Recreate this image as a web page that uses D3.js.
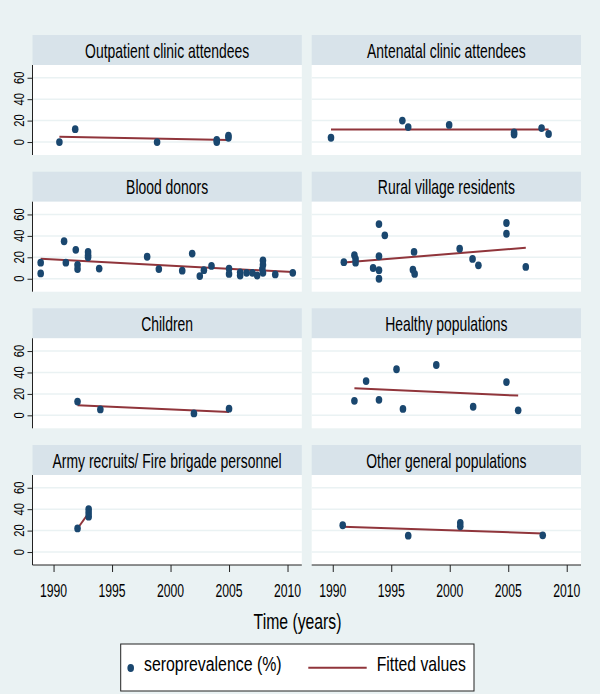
<!DOCTYPE html>
<html>
<head>
<meta charset="utf-8">
<script src="https://cdn.jsdelivr.net/npm/d3@7"></script>
<style>
  body { margin: 0; background: #eaf2f3; }
  svg { display: block; }
  text { font-family: "Liberation Sans", Arial, sans-serif; fill: #000; }
</style>
</head>
<body>
<div id="chart"></div>
<script>
// panel titles, in reading order (left-right, top-bottom)
const panelTitles = [
    "Outpatient clinic attendees", "Antenatal clinic attendees",
    "Blood donors", "Rural village residents",
    "Children", "Healthy populations",
    "Army recruits/ Fire brigade personnel", "Other general populations"
];

// [year, seroprevalence %] per panel
const outpatient = [[1990.5, 0], [1991.85, 12], [1998.85, 0], [2003.95, 0], [2003.95, 2], [2004.95, 4], [2004.95, 6]];
const antenatal = [[1989.85, 4], [1995.95, 20], [1996.45, 14], [1999.95, 16], [2005.5, 7], [2005.5, 9], [2007.85, 13], [2008.45, 7.5]];
const bloodDonors = [
    [1988.9, 5], [1988.9, 15], [1990.9, 35], [1991.05, 15], [1991.9, 27], [1992.05, 13], [1992.05, 9],
    [1992.95, 25], [1992.95, 22], [1992.95, 20], [1993.9, 9.5], [1998.0, 20.5], [1999.0, 9], [2001.0, 7.5],
    [2001.85, 23.5], [2002.5, 2.5], [2002.85, 8], [2003.5, 12], [2005.0, 9.5], [2005.0, 4.5],
    [2005.95, 6], [2005.95, 3], [2006.5, 5.5], [2007.0, 5.5], [2007.4, 3], [2007.85, 9],
    [2007.9, 17], [2007.9, 13], [2007.9, 5.5], [2008.95, 4], [2010.45, 5.5]
];
const rural = [
    [1990.95, 15.5], [1991.85, 22], [1991.95, 18.5], [1991.95, 15], [1993.45, 10], [1993.95, 51],
    [1993.95, 21], [1993.95, 8], [1993.95, 0], [1994.45, 40.5], [1996.95, 25], [1996.85, 8.5],
    [1997.0, 4.5], [2000.85, 28], [2001.95, 18.5], [2002.45, 12.5], [2004.85, 52], [2004.85, 42],
    [2006.5, 11]
];
const children = [[1992.05, 12.8], [1994.0, 5.5], [2002.0, 1.8], [2005.0, 6.2]];
const healthy = [[1991.85, 13.5], [1992.85, 32], [1993.95, 14.5], [1995.45, 43], [1996.0, 6], [1998.85, 47], [2002.0, 8], [2004.85, 31], [2005.85, 4.7]];
const army = [[1992.05, 22], [1993.0, 40], [1993.0, 36.5], [1993.0, 33]];
const otherGeneral = [[1990.85, 25], [1996.45, 15.3], [2000.9, 27.3], [2000.9, 24], [2007.95, 15.6]];

const panelData = [outpatient, antenatal, bloodDonors, rural, children, healthy, army, otherGeneral];

// fitted line end points per panel: [year0, value0, year1, value1]
const fitted = [
    [1990.5, 5.0, 2004.95, 1.9],
    [1989.85, 11.8, 2008.45, 11.6],
    [1988.9, 18.6, 2010.45, 6.2],
    [1990.95, 15.2, 2006.5, 28.9],
    [1992.05, 9.3, 2005.0, 3.1],
    [1991.85, 25.2, 2005.85, 18.4],
    [1992.05, 22.0, 1993.0, 36.4],
    [1990.85, 23.7, 2007.95, 17.4]
];

const xTicks = [1990, 1995, 2000, 2005, 2010];
const yTicks = [0, 20, 40, 60];

const legendLabels = ["seroprevalence (%)", "Fitted values"];

var width = 600, height = 694;
var navy = "#1a476f", maroon = "#90353b";

var colX = [32.5, 311.7],
    panelW = 269.3,
    rowTop = [35, 171.7, 308.3, 445],
    stripH = 30,
    plotH = 90;

var svg = d3.select("#chart").append("svg")
    .attr("width", width)
    .attr("height", height);

svg.append("rect")
    .attr("width", width).attr("height", height)
    .attr("fill", "#eaf2f3");

// text squeezed horizontally, like the stata export
function squeezed(parent, x, y, str, size, sx, anchor, rot) {
    var g = parent.append("g")
        .attr("transform", "translate(" + x + "," + y + ")" + (rot ? " rotate(" + rot + ")" : "") + " scale(" + sx + ",1)");
    return g.append("text")
        .attr("text-anchor", anchor || "middle")
        .style("font-size", size + "px")
        .text(str);
}

panelTitles.forEach(function(title, k) {
    var col = k % 2, row = Math.floor(k / 2);
    var x0 = colX[col], top = rowTop[row];
    var plotTop = top + stripH;

    var x = d3.scaleLinear().domain([1988.2, 2011.22]).range([x0, x0 + panelW]);
    var y = d3.scaleLinear().domain([-12.1, 71.9]).range([plotTop + plotH, plotTop]);

    var g = svg.append("g").attr("class", "panel");

    // strip
    g.append("rect")
        .attr("x", x0).attr("y", top)
        .attr("width", panelW).attr("height", stripH)
        .attr("fill", "#d8e3ea");
    squeezed(g, x0 + panelW / 2, top + 22.5, title, 20.5, 0.68);

    // plot region
    g.append("rect")
        .attr("x", x0).attr("y", plotTop)
        .attr("width", panelW).attr("height", plotH)
        .attr("fill", "#fff");

    g.selectAll(".grid")
        .data(yTicks)
        .enter().append("line")
        .attr("class", "grid")
        .attr("x1", x0).attr("x2", x0 + panelW)
        .attr("y1", d => y(d)).attr("y2", d => y(d))
        .attr("stroke", "#eaf2f3")
        .attr("stroke-width", 1.5);

    // y axis on the left column
    if (col === 0) {
        var yAxis = d3.axisLeft(y).tickValues(yTicks).tickSize(5).tickFormat("");
        var ya = g.append("g")
            .attr("transform", "translate(" + x0 + ",0)")
            .call(yAxis);
        ya.select(".domain").attr("d", "M0," + plotTop + "V" + (plotTop + plotH)).attr("stroke", "#222");
        ya.selectAll(".tick line").attr("stroke", "#222");
        yTicks.forEach(function(t) {
            squeezed(g, x0 - 9, y(t), String(t), 14, 0.8, "middle", -90);
        });
    }

    // x axis on the bottom row
    if (row === 3) {
        var xAxis = d3.axisBottom(x).tickValues(xTicks).tickSize(7).tickFormat("");
        var xa = g.append("g")
            .attr("transform", "translate(0," + (plotTop + plotH) + ")")
            .call(xAxis);
        xa.select(".domain").attr("d", "M" + x0 + ",0H" + (x0 + panelW)).attr("stroke", "#222");
        xa.selectAll(".tick line").attr("stroke", "#222");
        xTicks.forEach(function(t) {
            squeezed(g, x(t), plotTop + plotH + 31.7, String(t), 18.5, 0.66);
        });
    }

    // fitted line
    var f = fitted[k];
    g.append("line")
        .attr("x1", x(f[0])).attr("y1", y(f[1]))
        .attr("x2", x(f[2])).attr("y2", y(f[3]))
        .attr("stroke", maroon)
        .attr("stroke-width", 2);

    // points
    g.selectAll(".pt")
        .data(panelData[k])
        .enter().append("ellipse")
        .attr("class", "pt")
        .attr("cx", d => x(d[0]))
        .attr("cy", d => y(d[1]))
        .attr("rx", 3.3)
        .attr("ry", 3.9)
        .attr("fill", navy);
});

// axis title
squeezed(svg, 297.5, 629, "Time (years)", 22, 0.716);

// legend
var lg = svg.append("g");
lg.append("rect")
    .attr("x", 120.7).attr("y", 644)
    .attr("width", 353.3).attr("height", 47)
    .attr("fill", "#fff")
    .attr("stroke", "#222");
lg.append("ellipse")
    .attr("cx", 130.7).attr("cy", 668)
    .attr("rx", 3.3).attr("ry", 3.9)
    .attr("fill", navy);
squeezed(lg, 144, 671, legendLabels[0], 21, 0.756, "start");
lg.append("line")
    .attr("x1", 308.3).attr("x2", 366.7)
    .attr("y1", 667.7).attr("y2", 667.7)
    .attr("stroke", maroon).attr("stroke-width", 2);
squeezed(lg, 376.7, 671, legendLabels[1], 21, 0.75, "start");
</script>
</body>
</html>
